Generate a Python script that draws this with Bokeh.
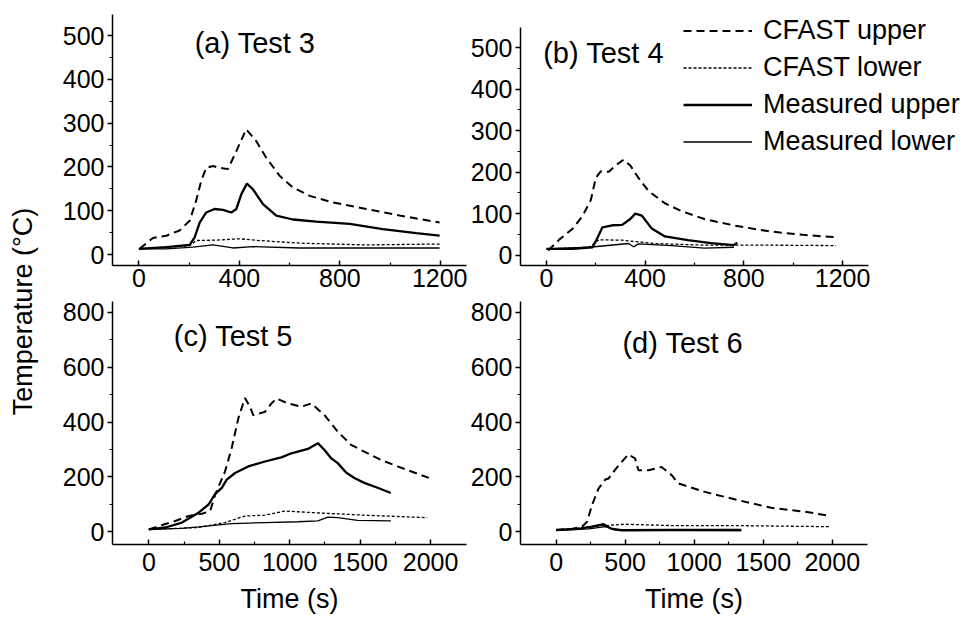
import math
from bokeh.plotting import figure
from bokeh.layouts import row, column
from bokeh.models import FixedTicker, Range1d, Label, Legend, LegendItem
from bokeh.embed import file_html
from bokeh.resources import INLINE

FONT = "Liberation Sans"

# ---------------- data ----------------
# Test 3
t3_time_cu = [3, 56, 109, 162, 202, 228, 248, 268, 295, 321, 354, 388, 427, 467, 507, 560, 613, 680, 772, 905, 1038, 1197]
t3_cfast_upper = [13, 38, 43, 55, 77, 123, 168, 198, 202, 198, 195, 236, 286, 259, 221, 180, 153, 134, 119, 104, 89, 73]
t3_time_cl = [0, 202, 228, 308, 401, 480, 640, 905, 1197]
t3_cfast_lower = [13, 20, 32, 33, 36, 32, 26, 22, 24]
t3_time_mu = [0, 109, 202, 222, 242, 268, 301, 335, 368, 388, 408, 430, 454, 494, 547, 613, 706, 839, 971, 1104, 1197]
t3_meas_upper = [13, 17, 22, 39, 73, 96, 104, 102, 96, 104, 138, 162, 149, 115, 89, 80, 75, 70, 58, 49, 43]
t3_time_ml = [0, 109, 215, 295, 374, 454, 640, 905, 1197]
t3_meas_lower = [13, 13, 17, 22, 15, 18, 15, 15, 15]

# Test 4
t4_time_cu = [7, 53, 107, 147, 180, 200, 220, 253, 280, 313, 340, 373, 413, 480, 547, 640, 773, 907, 1040, 1173]
t4_cfast_upper = [11, 38, 64, 95, 133, 186, 202, 201, 216, 230, 216, 186, 155, 125, 106, 87, 70, 57, 49, 43]
t4_time_cl = [7, 173, 213, 307, 440, 640, 907, 1173]
t4_cfast_lower = [15, 19, 37, 36, 28, 24, 24, 23]
t4_time_mu = [0, 107, 187, 207, 227, 267, 307, 340, 360, 387, 427, 480, 573, 667, 760, 773]
t4_meas_upper = [15, 15, 19, 42, 67, 72, 73, 87, 100, 95, 64, 45, 36, 29, 24, 30]
t4_time_ml = [0, 173, 333, 353, 373, 507, 640, 760]
t4_meas_lower = [15, 19, 28, 20, 27, 23, 17, 19]

# Test 5
t5_time_cu = [0, 94, 188, 282, 376, 435, 471, 541, 588, 635, 682, 718, 741, 824, 871, 906, 988, 1082, 1153, 1247, 1341, 1435, 1529, 1647, 1765, 1988]
t5_cfast_upper = [8, 24, 39, 57, 65, 75, 135, 220, 305, 413, 488, 456, 425, 437, 468, 486, 468, 456, 468, 425, 365, 317, 292, 262, 238, 196]
t5_time_cl = [0, 353, 541, 682, 824, 965, 1176, 1529, 1976]
t5_cfast_lower = [8, 15, 33, 57, 60, 75, 69, 60, 51]
t5_time_mu = [0, 118, 235, 353, 424, 471, 518, 553, 612, 706, 824, 941, 1012, 1129, 1200, 1247, 1294, 1341, 1400, 1459, 1529, 1624, 1718]
t5_meas_upper = [8, 15, 33, 69, 99, 138, 160, 190, 214, 238, 256, 271, 286, 302, 323, 298, 268, 250, 216, 196, 178, 160, 141]
t5_time_ml = [0, 235, 353, 588, 824, 1059, 1200, 1271, 1341, 1482, 1718]
t5_meas_lower = [8, 12, 17, 29, 33, 36, 39, 53, 51, 41, 39]

# Test 6
t6_time_cu = [0, 115, 188, 224, 260, 308, 356, 380, 452, 524, 572, 596, 668, 764, 837, 885, 1077, 1317, 1558, 1798, 1978]
t6_cfast_upper = [6, 10, 18, 36, 97, 158, 190, 194, 242, 282, 267, 224, 224, 236, 206, 176, 145, 115, 87, 73, 58]
t6_time_cl = [0, 188, 356, 500, 837, 1317, 1978]
t6_cfast_lower = [6, 15, 22, 27, 22, 22, 18]
t6_time_mu = [0, 163, 260, 344, 404, 476, 837, 1341]
t6_meas_upper = [6, 10, 18, 27, 10, 5, 6, 6]
t6_time_ml = [0, 236, 356, 428, 1341]
t6_meas_lower = [5, 10, 18, 6, 4]

# ticks
top_xticks = [0, 400, 800, 1200]
top_xminor = [200, 600, 1000]
top_yticks = [0, 100, 200, 300, 400, 500]
top_yminor = [50, 150, 250, 350, 450]
bot_xticks = [0, 500, 1000, 1500, 2000]
bot_xminor = [250, 750, 1250, 1750]
bot_yticks = [0, 200, 400, 600, 800]
bot_yminor = [100, 300, 500, 700]

series_labels = ["CFAST upper", "CFAST lower", "Measured upper", "Measured lower"]


def style_axes(p, xt, xm, yt, ym, xstand, xlabel=None, xbounds=None, ybounds=None):
    p.outline_line_color = None
    p.grid.visible = False
    for ax in (p.xaxis[0], p.yaxis[0]):
        ax.axis_line_color = "black"
        ax.axis_line_width = 1.5
        ax.major_tick_line_color = "black"
        ax.major_tick_line_width = 1.5
        ax.minor_tick_line_color = "black"
        ax.minor_tick_line_width = 1.2
        ax.major_label_text_font = FONT
        ax.major_label_text_font_size = "25px"
        ax.major_label_text_color = "black"
    xa = p.xaxis[0]
    xa.ticker = FixedTicker(ticks=xt, minor_ticks=xm)
    xa.major_tick_in = 5
    xa.major_tick_out = 0
    xa.minor_tick_in = 3
    xa.minor_tick_out = 0
    xa.major_label_standoff = xstand
    if xbounds is not None:
        xa.bounds = xbounds
    ya = p.yaxis[0]
    ya.ticker = FixedTicker(ticks=yt, minor_ticks=ym)
    ya.major_tick_in = 0
    ya.major_tick_out = 5
    ya.minor_tick_in = 0
    ya.minor_tick_out = 3
    ya.major_label_standoff = 3
    if ybounds is not None:
        ya.bounds = ybounds
    if xlabel:
        xa.axis_label = xlabel
        xa.axis_label_text_font = FONT
        xa.axis_label_text_font_size = "27px"
        xa.axis_label_text_font_style = "normal"
        xa.axis_label_text_color = "black"
        xa.axis_label_standoff = 10


def draw(p, tcu, cu, tcl, cl, tmu, mu, tml, ml):
    r1 = p.line(tcu, cu, line_color="black", line_width=2, line_dash="8 5")
    r2 = p.line(tcl, cl, line_color="black", line_width=1.3, line_dash="3 2")
    r3 = p.line(tmu, mu, line_color="black", line_width=2.3)
    r4 = p.line(tml, ml, line_color="black", line_width=1.3)
    return [r1, r2, r3, r4]


def title(p, text, x, y):
    p.add_layout(Label(x=x, y=y, text=text, text_font=FONT, text_font_size="29px",
                       text_color="black", text_align="left", text_baseline="alphabetic"))


def panel(width, height, xr, yr, bl, br, bt, bb):
    return figure(width=width, height=height, x_range=Range1d(*xr), y_range=Range1d(*yr),
                  output_backend="svg", toolbar_location=None,
                  min_border_left=bl, min_border_right=br, min_border_top=bt, min_border_bottom=bb)


TOP_H, BOT_H = 297, 319
LABEL_W, LEFT_W, RIGHT_W = 52, 415, 497

pa = panel(LEFT_W, TOP_H, (-105, 1304), (-25, 548), 60, 1, 14, 32)
style_axes(pa, top_xticks, top_xminor, top_yticks, top_yminor, 3)
draw(pa, t3_time_cu, t3_cfast_upper, t3_time_cl, t3_cfast_lower, t3_time_mu, t3_meas_upper, t3_time_ml, t3_meas_lower)
title(pa, "(a) Test 3", 222, 482)

pb = panel(RIGHT_W, TOP_H, (-105, 1694), (-25, 580), 50, 0, 0, 32)
style_axes(pb, top_xticks, top_xminor, top_yticks, top_yminor, 3, xbounds=(-105, 1304), ybounds=(-25, 548))
rb = draw(pb, t4_time_cu, t4_cfast_upper, t4_time_cl, t4_cfast_lower, t4_time_mu, t4_meas_upper, t4_time_ml, t4_meas_lower)
title(pb, "(b) Test 4", -13, 486)
legend = Legend(items=[LegendItem(label=lab, renderers=[r]) for lab, r in zip(series_labels, rb)],
                location=(163, 108), label_text_font=FONT, label_text_font_size="27px",
                label_text_color="black", glyph_width=69, glyph_height=31, label_height=31,
                spacing=6, padding=0, margin=0, label_standoff=11,
                border_line_color=None, background_fill_alpha=0)
pb.add_layout(legend)

pc = panel(LEFT_W, BOT_H, (-258, 2255), (-47, 840), 60, 1, 4, 70)
style_axes(pc, bot_xticks, bot_xminor, bot_yticks, bot_yminor, 8, "Time (s)")
draw(pc, t5_time_cu, t5_cfast_upper, t5_time_cl, t5_cfast_lower, t5_time_mu, t5_meas_upper, t5_time_ml, t5_meas_lower)
title(pc, "(c) Test 5", 177, 714)

pd_ = panel(RIGHT_W, BOT_H, (-258, 2255), (-47, 840), 50, 97, 4, 70)
style_axes(pd_, bot_xticks, bot_xminor, bot_yticks, bot_yminor, 8, "Time (s)")
draw(pd_, t6_time_cu, t6_cfast_upper, t6_time_cl, t6_cfast_lower, t6_time_mu, t6_meas_upper, t6_time_ml, t6_meas_lower)
title(pd_, "(d) Test 6", 480, 688)

# y-axis label column
TOT_H = TOP_H + BOT_H
pl = figure(width=LABEL_W, height=TOT_H, x_range=Range1d(0, LABEL_W), y_range=Range1d(0, TOT_H),
            output_backend="svg", toolbar_location=None, x_axis_location=None, y_axis_location=None,
            min_border=0)
pl.outline_line_color = None
pl.grid.visible = False
pl.add_layout(Label(x=22, y=TOT_H - 311, text="Temperature (°C)", angle=math.pi / 2,
                    text_font=FONT, text_font_size="27px", text_color="black",
                    text_align="center", text_baseline="middle"))

layout = row(pl, column(row(pa, pb), row(pc, pd_)))

open("out.html", "w").write(file_html(layout, INLINE))
